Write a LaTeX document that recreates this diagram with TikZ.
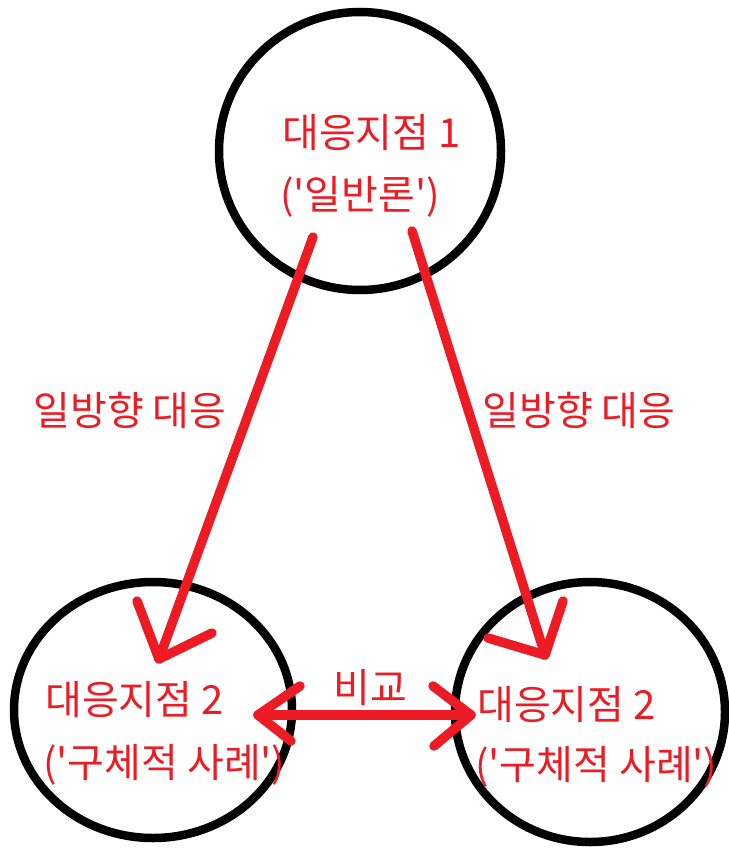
\documentclass[tikz,border=0pt]{standalone}
\usepackage{fontspec}
\setmainfont[Ligatures=TeXOff]{Noto Sans CJK KR}
\usetikzlibrary{shapes.geometric}
\begin{document}
\begin{tikzpicture}[x=1pt,y=-1pt,
  ring/.style={draw=black,line width=8.5pt,ellipse,inner sep=0pt},
  redline/.style={draw=pred,line width=9.5pt,line cap=round,line join=round},
  lbl/.style={text=pred,font=\fontsize{40}{46}\selectfont,inner sep=0pt,align=center},
]
\definecolor{pred}{RGB}{237,28,36}
\useasboundingbox[fill=white] (0,0) rectangle (728,850);
% circles
\node[ring,minimum width=282pt,minimum height=278pt] (ctop) at (360,151) {};
\node[ring,minimum width=278pt,minimum height=256pt] (cleft) at (153,710) {};
\node[ring,minimum width=270pt,minimum height=260pt] (cright) at (590,712) {};
% texts
\node[lbl,anchor=west] (t1a) at (282,133) {대응지점 1};
\node[lbl,anchor=west] (t1b) at (280,197) {('일반론')};
\node[lbl,anchor=west] (t2a) at (45,700) {대응지점 2};
\node[lbl,anchor=west] (t2b) at (43,765) {('구체적 사례')};
\node[lbl,anchor=west] (t3a) at (477,705) {대응지점 2};
\node[lbl,anchor=west] (t3b) at (475,767) {('구체적 사례')};
\node[lbl] (cmp) at (370,688) {비교};
\node[lbl] (l1) at (130,410) {일방향 대응};
\node[lbl] (l2) at (579,410) {일방향 대응};
% arrow coordinates
\coordinate (s1) at (313,237);
\coordinate (e1) at (159,659);
\coordinate (e1a) at (137,601);
\coordinate (e1b) at (212,633);
\coordinate (s2) at (412,231);
\coordinate (e2) at (545,655);
\coordinate (e2a) at (488,638);
\coordinate (e2b) at (563,601);
\coordinate (m1) at (258,715);
\coordinate (m1a) at (300,686);
\coordinate (m1b) at (291,741);
\coordinate (m2) at (471,715);
\coordinate (m2a) at (433,686);
\coordinate (m2b) at (434,746);
% arrows
\draw[redline] (s1) -- (e1);
\draw[redline] (e1a) -- (e1) -- (e1b);
\draw[redline] (s2) -- (e2);
\draw[redline] (e2a) -- (e2) -- (e2b);
\draw[redline] (m1) -- (m2);
\draw[redline] (m1a) -- (m1) -- (m1b);
\draw[redline] (m2a) -- (m2) -- (m2b);
\end{tikzpicture}
\end{document}
